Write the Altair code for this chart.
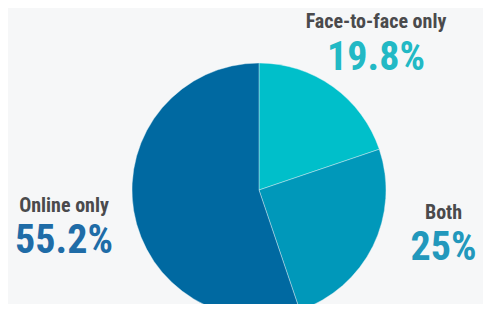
import altair as alt
import pandas as pd

categories = ["Face-to-face only", "Both", "Online only"]
values = [19.8, 25.0, 55.2]
value_labels = ["19.8%", "25%", "55.2%"]
slice_colors = ["#00BFCA", "#0098BA", "#0069A1"]
label_colors = ["#22B9C5", "#2298BC", "#1F6CA7"]

df = pd.DataFrame({
    "category": categories,
    "value": values,
    "order": list(range(len(categories))),
    "pct": value_labels,
})

FONT = ("Roboto Condensed, Noto Sans ExtraCondensed, Noto Sans Condensed, "
        "Liberation Sans Narrow, Arial Narrow, DejaVu Sans Condensed, sans-serif")

pie = alt.Chart(df).mark_arc(radius=127, stroke="#e8f4f8", strokeWidth=0.4).encode(
    theta=alt.Theta("value:Q", stack=True),
    order=alt.Order("order:Q"),
    color=alt.Color("category:N", scale=alt.Scale(domain=categories, range=slice_colors), legend=None),
    x=alt.value(251),
    y=alt.value(182),
)

# label layout (center x, name baseline, value baseline) in plot coordinates
layout = {
    "Face-to-face only": (368, 20, 62),
    "Both": (435.5, 211, 252),
    "Online only": (56, 204, 245),
}

layers = [pie]
for cat, lab, col in zip(categories, value_labels, label_colors):
    cx, ny, vy = layout[cat]
    sub = df[df["category"] == cat]
    layers.append(
        alt.Chart(sub).mark_text(font=FONT, fontWeight="bold", fontSize=20, color="#4a4a4c",
                                 align="center", baseline="alphabetic").encode(
            text="category:N", x=alt.value(cx), y=alt.value(ny))
    )
    layers.append(
        alt.Chart(sub).mark_text(font=FONT, fontWeight="bold", fontSize=40, color=col,
                                 align="center", baseline="alphabetic").encode(
            text="pct:N", x=alt.value(cx), y=alt.value(vy))
    )

chart = alt.layer(*layers).properties(
    width=475, height=296, padding=0,
    autosize=alt.AutoSizeParams(type="none"),
    background="#f6f7f8",
).configure_view(strokeWidth=0)

chart.save("out.html", embed_options={"renderer": "svg", "actions": False})
